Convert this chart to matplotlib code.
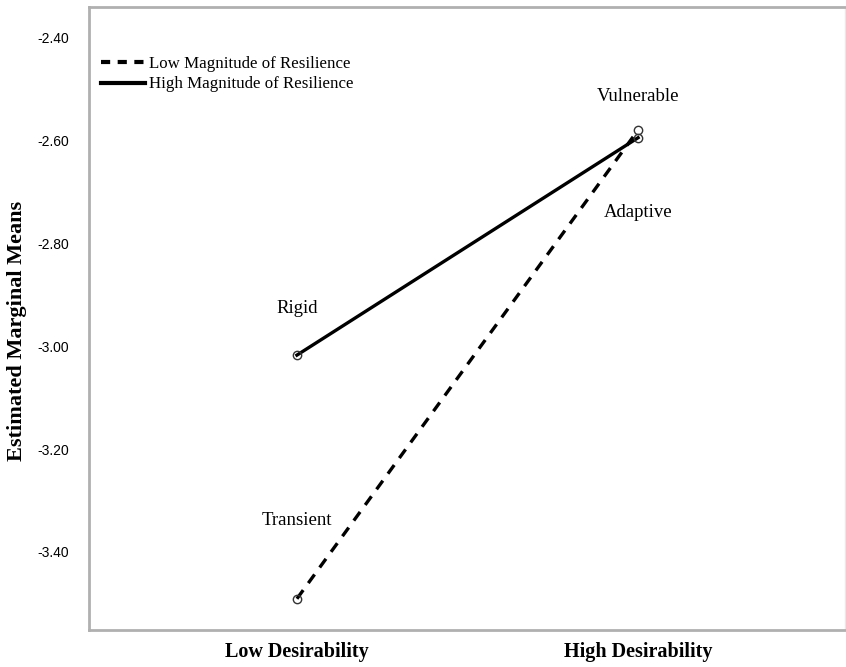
import matplotlib.pyplot as plt
from matplotlib.lines import Line2D

# data
categories = ["Low Desirability", "High Desirability"]
low_resilience = [-3.491, -2.579]
high_resilience = [-3.017, -2.594]
series_names = ["Low Magnitude of Resilience", "High Magnitude of Resilience"]
point_labels = [("Transient", 0, -3.338), ("Rigid", 0, -2.926),
                ("Vulnerable", 1, -2.514), ("Adaptive", 1, -2.740)]
y_ticks = [-2.40, -2.60, -2.80, -3.00, -3.20, -3.40]

serif = "Liberation Serif"
sans = "Liberation Sans"

fig = plt.figure(figsize=(8.46, 6.67), dpi=100)
ax = fig.add_axes([0.105, 0.0555, 0.894, 0.934])

x = list(range(len(categories)))
ax.plot(x, low_resilience, color="black", lw=2.4, linestyle=(0, (3.2, 2.6)),
        marker="o", markersize=6, markerfacecolor="none", markeredgewidth=1.0,
        markeredgecolor="#333333")
ax.plot(x, high_resilience, color="black", lw=2.4, linestyle="-",
        marker="o", markersize=6, markerfacecolor="none", markeredgewidth=1.0,
        markeredgecolor="#333333")

for text, xi, yi in point_labels:
    ax.text(xi, yi, text, ha="center", va="center", family=serif, fontsize=13.5)

ax.set_xlim(-0.61, 1.607)
ax.set_ylim(-3.5518, -2.3397)
ax.set_xticks(x)
ax.set_xticklabels(categories, family=serif, fontsize=14.5, fontweight="bold")
ax.set_yticks(y_ticks)
ax.set_yticklabels([f"{v:.2f}" for v in y_ticks], family=sans, fontsize=10)
ax.tick_params(length=0, pad=9)
ax.tick_params(axis="y", pad=14)
ax.set_ylabel("Estimated Marginal Means", family=serif, fontsize=16,
              fontweight="bold")
ax.yaxis.set_label_coords(-0.082, 0.48)

for side in ["left", "bottom", "top"]:
    ax.spines[side].set_color("#b0b0b0")
    ax.spines[side].set_linewidth(2)
ax.spines["right"].set_color("#e8e8e8")
ax.spines["right"].set_linewidth(1)

handles = [
    Line2D([0], [0], color="black", lw=3, linestyle=(0, (2.2, 1.8))),
    Line2D([0], [0], color="black", lw=3, linestyle="-"),
]
ax.legend(handles, series_names, loc="upper left", bbox_to_anchor=(0.0, 0.94),
          frameon=False, prop={"family": serif, "size": 12.2},
          handlelength=2.6, handletextpad=0.25, labelspacing=0.25,
          borderaxespad=0.3)

fig.savefig("out.png", dpi=100)
